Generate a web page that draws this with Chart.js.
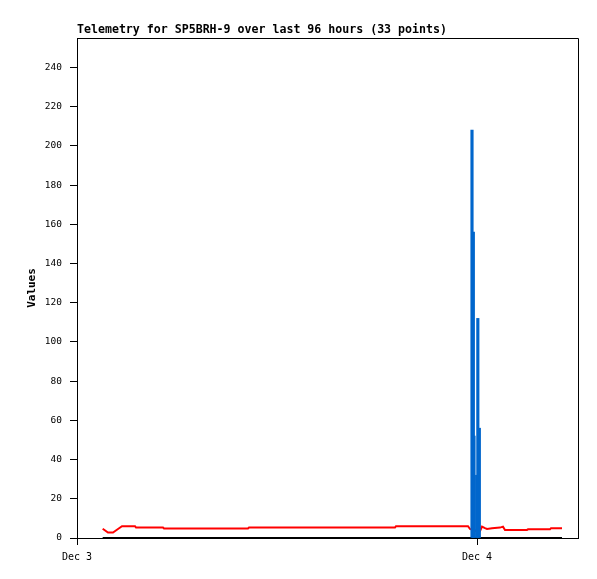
<!DOCTYPE html>
<html>
<head>
<meta charset="utf-8">
<title>Telemetry SP5BRH-9</title>
<script src="https://cdn.jsdelivr.net/npm/chart.js@4/dist/chart.umd.min.js"></script>
<style>
  html, body { margin: 0; padding: 0; background: #fff; }
  #wrap { width: 597px; height: 579px; }
</style>
</head>
<body>
<div id="wrap"><canvas id="telemetryCanvas" width="597" height="579"></canvas></div>
<script>
// hours since Dec 3 00:00
const redHours = [1.54, 1.86, 2.16, 2.46, 2.70, 3.48, 3.54, 5.16, 5.22, 10.26, 10.32, 19.08, 19.14,
    23.46, 23.58, 23.88, 24.06, 24.18, 24.30, 24.48, 24.60, 24.90, 25.38, 25.56, 25.68, 27.00,
    27.06, 28.38, 28.44, 29.10];
const redValues = [4.7, 2.8, 2.8, 4.6, 6.0, 6.0, 5.3, 5.3, 4.8, 4.8, 5.3, 5.3, 6.0,
    6.0, 4.6, 3.8, 3.2, 3.5, 5.8, 5.0, 4.6, 5.0, 5.3, 5.8, 4.1, 4.1,
    4.4, 4.4, 5.0, 5.0];

const blueHours = [23.70, 23.78, 23.82, 23.98, 24.05, 24.14];
const blueValues = [208, 156, 52, 32, 112, 56];

const blackHours = [1.54, 29.10];
const blackValues = [0, 0];

const xTickHours = [0, 24];
const xTickLabels = ["Dec 3", "Dec 4"];

function pairs(xs, ys) {
    return xs.map(function (x, i) { return { x: x, y: ys[i] }; });
}

// top/right border of the plot box, plus the x tick marks below the axis
const frame = {
    id: "frame",
    afterDraw: function (chart) {
        const a = chart.chartArea;
        const ctx = chart.ctx;
        const xs = chart.scales.x;
        ctx.save();
        ctx.strokeStyle = "#000";
        ctx.lineWidth = 1;
        ctx.beginPath();
        ctx.moveTo(a.left, a.top + 0.5);
        ctx.lineTo(a.right + 0.5, a.top + 0.5);
        ctx.lineTo(a.right + 0.5, a.bottom);
        xTickHours.forEach(function (h) {
            const px = Math.round(xs.getPixelForValue(h)) + 0.5;
            ctx.moveTo(px, a.bottom);
            ctx.lineTo(px, a.bottom + 7);
        });
        ctx.stroke();
        ctx.restore();
    }
};

const monoFont = "'DejaVu Sans Mono', 'Liberation Mono', monospace";

new Chart(document.getElementById("telemetryCanvas"), {
    type: "line",
    data: {
        datasets: [
            {
                type: "bar",
                data: pairs(blueHours, blueValues),
                backgroundColor: "#0066cc",
                borderWidth: 0,
                barThickness: 2.5,
                grouped: false,
                order: 1
            },
            {
                data: pairs(redHours, redValues),
                borderColor: "#ff0000",
                borderWidth: 2,
                pointRadius: 0,
                tension: 0,
                order: 2
            },
            {
                data: pairs(blackHours, blackValues),
                borderColor: "#000000",
                borderWidth: 2,
                pointRadius: 0,
                tension: 0,
                order: 3
            }
        ]
    },
    options: {
        responsive: false,
        animation: false,
        devicePixelRatio: 1,
        layout: { padding: { left: 0, right: 19, top: 0, bottom: 0 } },
        plugins: {
            legend: { display: false },
            tooltip: { enabled: false },
            title: {
                display: true,
                text: "Telemetry for SP5BRH-9 over last 96 hours (33 points)",
                align: "start",
                fullSize: false,
                color: "#000",
                font: { family: monoFont, size: 11.6, weight: "bold", lineHeight: 1 },
                padding: { top: 24, bottom: 2.4 }
            }
        },
        scales: {
            x: {
                type: "linear",
                min: 0,
                max: 30.06,
                offset: false,
                afterBuildTicks: function (scale) {
                    scale.ticks = xTickHours.map(function (v) { return { value: v }; });
                },
                afterFit: function (scale) { scale.height = 41; },
                ticks: {
                    autoSkip: false,
                    maxRotation: 0,
                    color: "#000",
                    padding: 6,
                    font: { family: monoFont, size: 10 },
                    callback: function (value) {
                        const i = xTickHours.indexOf(value);
                        return i >= 0 ? xTickLabels[i] : "";
                    }
                },
                grid: { drawOnChartArea: false, offset: false, tickLength: 7, color: "#000", lineWidth: 1 },
                border: { color: "#000", width: 1 }
            },
            y: {
                min: 0,
                max: 255,
                afterFit: function (scale) { scale.width = 77; },
                ticks: {
                    stepSize: 20,
                    includeBounds: false,
                    color: "#000",
                    padding: 8,
                    font: { family: monoFont, size: 9.5 }
                },
                grid: { drawOnChartArea: false, tickLength: 7, color: "#000" },
                border: { color: "#000", width: 1 },
                title: {
                    display: true,
                    text: "Values",
                    color: "#000",
                    font: { family: monoFont, size: 11, weight: "bold" },
                    padding: { top: 26, bottom: 0 }
                }
            }
        }
    },
    plugins: [frame]
});
</script>
</body>
</html>
